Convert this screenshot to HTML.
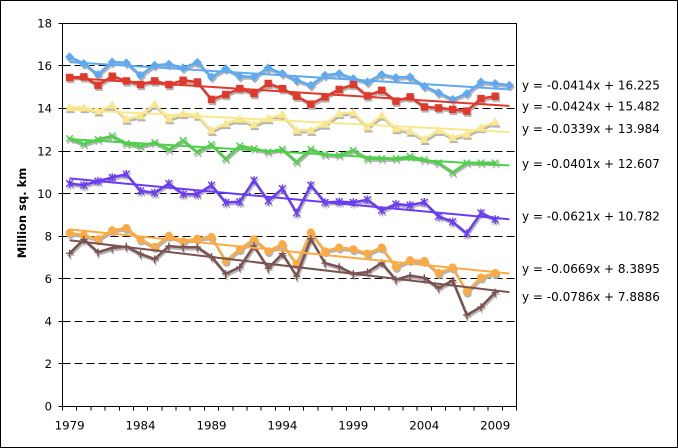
<!DOCTYPE html>
<html>
<head>
<meta charset="utf-8">
<style>
  html, body { margin:0; padding:0; background:#fff; }
  svg { display:block; }
  text { font-family: "DejaVu Sans", Verdana, "Liberation Sans", sans-serif; fill:#000; }
</style>
</head>
<body>
<svg width="678" height="448" viewBox="0 0 678 448" xmlns="http://www.w3.org/2000/svg">
  <defs>
    <!-- colored markers -->
    <marker id="mBlue" markerUnits="userSpaceOnUse" viewBox="-6 -6 12 12" markerWidth="12" markerHeight="12" refX="0" refY="0" overflow="visible"><path d="M0,-4.5L4.5,0L0,4.5L-4.5,0Z" fill="#5eaaf2"/></marker>
    <marker id="mRed" markerUnits="userSpaceOnUse" viewBox="-6 -6 12 12" markerWidth="12" markerHeight="12" refX="0" refY="0" overflow="visible"><rect x="-3.7" y="-3.7" width="7.4" height="7.4" fill="#e0382b"/></marker>
    <marker id="mYel" markerUnits="userSpaceOnUse" viewBox="-6 -6 12 12" markerWidth="12" markerHeight="12" refX="0" refY="0" overflow="visible"><path d="M0,-4.8L4.6,3.6L-4.6,3.6Z" fill="#f9e78c"/></marker>
    <marker id="mGrn" markerUnits="userSpaceOnUse" viewBox="-6 -6 12 12" markerWidth="12" markerHeight="12" refX="0" refY="0" overflow="visible"><path d="M-3.2,-3.2L3.2,3.2M-3.2,3.2L3.2,-3.2" stroke="#4fcf4a" stroke-width="1.4" fill="none"/></marker>
    <marker id="mPur" markerUnits="userSpaceOnUse" viewBox="-6 -6 12 12" markerWidth="12" markerHeight="12" refX="0" refY="0" overflow="visible"><path d="M-3.4,-3.4L3.4,3.4M-3.4,3.4L3.4,-3.4M0,-4.2V4.2" stroke="#6a3cf5" stroke-width="1.4" fill="none"/></marker>
    <marker id="mOra" markerUnits="userSpaceOnUse" viewBox="-6 -6 12 12" markerWidth="12" markerHeight="12" refX="0" refY="0" overflow="visible"><circle r="4" fill="#fcaa42"/></marker>
    <marker id="mBrn" markerUnits="userSpaceOnUse" viewBox="-6 -6 12 12" markerWidth="12" markerHeight="12" refX="0" refY="0" overflow="visible"><path d="M-3.6,0H3.6M0,-3.6V4.4" stroke="#7b5252" stroke-width="1.4" fill="none"/></marker>
    <!-- gray shadow markers -->
    <marker id="sBlue" markerUnits="userSpaceOnUse" viewBox="-6 -6 12 12" markerWidth="12" markerHeight="12" refX="0" refY="0" overflow="visible"><path d="M0,-4.5L4.5,0L0,4.5L-4.5,0Z" fill="#b4b4b4"/></marker>
    <marker id="sRed" markerUnits="userSpaceOnUse" viewBox="-6 -6 12 12" markerWidth="12" markerHeight="12" refX="0" refY="0" overflow="visible"><rect x="-3.7" y="-3.7" width="7.4" height="7.4" fill="#b4b4b4"/></marker>
    <marker id="sYel" markerUnits="userSpaceOnUse" viewBox="-6 -6 12 12" markerWidth="12" markerHeight="12" refX="0" refY="0" overflow="visible"><path d="M0,-4.8L4.6,3.6L-4.6,3.6Z" fill="#b4b4b4"/></marker>
    <marker id="sX" markerUnits="userSpaceOnUse" viewBox="-6 -6 12 12" markerWidth="12" markerHeight="12" refX="0" refY="0" overflow="visible"><path d="M-3.2,-3.2L3.2,3.2M-3.2,3.2L3.2,-3.2" stroke="#b4b4b4" stroke-width="1.4" fill="none"/></marker>
    <marker id="sAst" markerUnits="userSpaceOnUse" viewBox="-6 -6 12 12" markerWidth="12" markerHeight="12" refX="0" refY="0" overflow="visible"><path d="M-3.4,-3.4L3.4,3.4M-3.4,3.4L3.4,-3.4M0,-4.2V4.2" stroke="#b4b4b4" stroke-width="1.4" fill="none"/></marker>
    <marker id="sCi" markerUnits="userSpaceOnUse" viewBox="-6 -6 12 12" markerWidth="12" markerHeight="12" refX="0" refY="0" overflow="visible"><circle r="4" fill="#b4b4b4"/></marker>
    <marker id="sPl" markerUnits="userSpaceOnUse" viewBox="-6 -6 12 12" markerWidth="12" markerHeight="12" refX="0" refY="0" overflow="visible"><path d="M-3.6,0H3.6M0,-3.6V4.4" stroke="#b4b4b4" stroke-width="1.4" fill="none"/></marker>
  </defs>

  <!-- background & outer border -->
  <rect x="0" y="0" width="678" height="448" fill="#fff"/>
  <rect x="0.5" y="0.5" width="677" height="447" fill="none" stroke="#000" stroke-width="1"/>

  <!-- dashed gridlines -->
  <g stroke="#000" stroke-width="1" stroke-dasharray="8,4" shape-rendering="crispEdges">
    <line x1="62.5" y1="363.5" x2="516.5" y2="363.5"/>
    <line x1="62.5" y1="321.5" x2="516.5" y2="321.5"/>
    <line x1="62.5" y1="278.5" x2="516.5" y2="278.5"/>
    <line x1="62.5" y1="236.5" x2="516.5" y2="236.5"/>
    <line x1="62.5" y1="193.5" x2="516.5" y2="193.5"/>
    <line x1="62.5" y1="151.5" x2="516.5" y2="151.5"/>
    <line x1="62.5" y1="108.5" x2="516.5" y2="108.5"/>
    <line x1="62.5" y1="65.5" x2="516.5" y2="65.5"/>
  </g>

  <!-- plot frame, axes and ticks -->
  <g stroke="#000" stroke-width="1" fill="none" shape-rendering="crispEdges">
    <path d="M62.5,23.5H516.5V406.5H62.5Z"/>
    <path d="M58.5,406.5H62.5M58.5,363.5H62.5M58.5,321.5H62.5M58.5,278.5H62.5M58.5,236.5H62.5M58.5,193.5H62.5M58.5,151.5H62.5M58.5,108.5H62.5M58.5,65.5H62.5M58.5,23.5H62.5"/>
    <path d="M62.5,406.5v4M76.7,406.5v4M90.9,406.5v4M105.1,406.5v4M119.3,406.5v4M133.4,406.5v4M147.6,406.5v4M161.8,406.5v4M176,406.5v4M190.2,406.5v4M204.4,406.5v4M218.6,406.5v4M232.8,406.5v4M246.9,406.5v4M261.1,406.5v4M275.3,406.5v4M289.5,406.5v4M303.7,406.5v4M317.9,406.5v4M332.1,406.5v4M346.3,406.5v4M360.4,406.5v4M374.6,406.5v4M388.8,406.5v4M403,406.5v4M417.2,406.5v4M431.4,406.5v4M445.6,406.5v4M459.8,406.5v4M473.9,406.5v4M488.1,406.5v4M502.3,406.5v4M516.5,406.5v4"/>
  </g>

  <!-- Y tick labels -->
  <g font-size="11.6" text-anchor="end">
    <text x="52" y="27.6">18</text>
    <text x="52" y="69.8">16</text>
    <text x="52" y="112.6">14</text>
    <text x="52" y="155.5">12</text>
    <text x="52" y="197.8">10</text>
    <text x="52" y="240.5">8</text>
    <text x="52" y="282.8">6</text>
    <text x="52" y="325.5">4</text>
    <text x="52" y="367.8">2</text>
    <text x="52" y="410.6">0</text>
  </g>

  <!-- X tick labels -->
  <g font-size="11.8" text-anchor="middle">
    <text x="69.6" y="429.3">1979</text>
    <text x="140.5" y="429.3">1984</text>
    <text x="211.5" y="429.3">1989</text>
    <text x="282.4" y="429.3">1994</text>
    <text x="353.3" y="429.3">1999</text>
    <text x="424.3" y="429.3">2004</text>
    <text x="495.2" y="429.3">2009</text>
  </g>

  <!-- Y axis title -->
  <text x="0" y="0" font-size="11.5" font-weight="bold" text-anchor="middle" transform="translate(26,213) rotate(-90)">Million sq. km</text>

  <!-- ============ SERIES ============ -->
  <!-- Blue -->
  <g transform="translate(1,2)">
    <polyline fill="none" stroke="#b4b4b4" stroke-width="2.5" stroke-linejoin="round" marker-start="url(#sBlue)" marker-mid="url(#sBlue)" marker-end="url(#sBlue)"
      points="69.6,56.9 83.8,63.5 98.0,74.5 112.2,62.0 126.3,62.8 140.5,75.2 154.7,65.2 168.9,64.1 183.1,67.9 197.3,62.4 211.5,76.9 225.7,68.6 239.8,76.2 254.0,76.9 268.2,67.9 282.4,73.5 296.6,80.3 310.8,85.2 325.0,75.2 339.2,73.5 353.3,78.6 367.5,82.0 381.7,74.5 395.9,77.5 410.1,76.9 424.3,86.2 438.5,92.8 452.7,99.4 466.8,93.5 481.0,82.0 495.2,83.5 509.4,85.2"/>
  </g>
  <polyline fill="none" stroke="#5eaaf2" stroke-width="2.5" stroke-linejoin="round" marker-start="url(#mBlue)" marker-mid="url(#mBlue)" marker-end="url(#mBlue)"
    points="69.6,56.9 83.8,63.5 98.0,74.5 112.2,62.0 126.3,62.8 140.5,75.2 154.7,65.2 168.9,64.1 183.1,67.9 197.3,62.4 211.5,76.9 225.7,68.6 239.8,76.2 254.0,76.9 268.2,67.9 282.4,73.5 296.6,80.3 310.8,85.2 325.0,75.2 339.2,73.5 353.3,78.6 367.5,82.0 381.7,74.5 395.9,77.5 410.1,76.9 424.3,86.2 438.5,92.8 452.7,99.4 466.8,93.5 481.0,82.0 495.2,83.5 509.4,85.2"/>

  <!-- Red -->
  <g transform="translate(1,2)">
    <polyline fill="none" stroke="#b4b4b4" stroke-width="2.5" stroke-linejoin="round" marker-start="url(#sRed)" marker-mid="url(#sRed)" marker-end="url(#sRed)"
      points="69.6,77.5 83.8,76.9 98.0,85.2 112.2,76.2 126.3,80.9 140.5,84.5 154.7,80.9 168.9,84.5 183.1,80.3 197.3,82.0 211.5,99.4 225.7,94.5 239.8,88.6 254.0,93.5 268.2,83.5 282.4,88.6 296.6,96.2 310.8,104.1 325.0,96.9 339.2,89.4 353.3,84.5 367.5,95.8 381.7,90.3 395.9,101.1 410.1,96.9 424.3,106.9 438.5,107.9 452.7,109.4 466.8,111.1 481.0,98.6 495.2,96.2"/>
  </g>
  <polyline fill="none" stroke="#e0382b" stroke-width="2.5" stroke-linejoin="round" marker-start="url(#mRed)" marker-mid="url(#mRed)" marker-end="url(#mRed)"
    points="69.6,77.5 83.8,76.9 98.0,85.2 112.2,76.2 126.3,80.9 140.5,84.5 154.7,80.9 168.9,84.5 183.1,80.3 197.3,82.0 211.5,99.4 225.7,94.5 239.8,88.6 254.0,93.5 268.2,83.5 282.4,88.6 296.6,96.2 310.8,104.1 325.0,96.9 339.2,89.4 353.3,84.5 367.5,95.8 381.7,90.3 395.9,101.1 410.1,96.9 424.3,106.9 438.5,107.9 452.7,109.4 466.8,111.1 481.0,98.6 495.2,96.2"/>

  <!-- Yellow -->
  <g transform="translate(1,2)">
    <polyline fill="none" stroke="#b4b4b4" stroke-width="2.5" stroke-linejoin="round" marker-start="url(#sYel)" marker-mid="url(#sYel)" marker-end="url(#sYel)"
      points="69.6,107.5 83.8,107.5 98.0,110.9 112.2,105.2 126.3,119.2 140.5,115.8 154.7,104.1 168.9,118.6 183.1,113.5 197.3,115.2 211.5,130.3 225.7,123.5 239.8,119.2 254.0,124.5 268.2,118.6 282.4,114.5 296.6,130.3 310.8,130.3 325.0,124.1 339.2,113.5 353.3,112.6 367.5,126.9 381.7,115.2 395.9,128.6 410.1,131.1 424.3,139.4 438.5,130.3 452.7,137.5 466.8,134.1 481.0,127.5 495.2,122.0"/>
  </g>
  <polyline fill="none" stroke="#f9e78c" stroke-width="2.5" stroke-linejoin="round" marker-start="url(#mYel)" marker-mid="url(#mYel)" marker-end="url(#mYel)"
    points="69.6,107.5 83.8,107.5 98.0,110.9 112.2,105.2 126.3,119.2 140.5,115.8 154.7,104.1 168.9,118.6 183.1,113.5 197.3,115.2 211.5,130.3 225.7,123.5 239.8,119.2 254.0,124.5 268.2,118.6 282.4,114.5 296.6,130.3 310.8,130.3 325.0,124.1 339.2,113.5 353.3,112.6 367.5,126.9 381.7,115.2 395.9,128.6 410.1,131.1 424.3,139.4 438.5,130.3 452.7,137.5 466.8,134.1 481.0,127.5 495.2,122.0"/>

  <!-- Green -->
  <g transform="translate(1,2)">
    <polyline fill="none" stroke="#b4b4b4" stroke-width="2.5" stroke-linejoin="round" marker-start="url(#sX)" marker-mid="url(#sX)" marker-end="url(#sX)"
      points="69.6,138.6 83.8,144.1 98.0,139.4 112.2,135.8 126.3,143.5 140.5,146.2 154.7,142.4 168.9,149.6 183.1,140.3 197.3,151.8 211.5,144.5 225.7,158.6 239.8,145.8 254.0,148.6 268.2,151.8 282.4,149.2 296.6,161.8 310.8,149.2 325.0,154.5 339.2,155.2 353.3,150.3 367.5,158.6 381.7,158.6 395.9,158.6 410.1,156.3 424.3,159.7 438.5,162.8 452.7,172.4 466.8,162.8 481.0,162.8 495.2,162.8"/>
  </g>
  <polyline fill="none" stroke="#4fcf4a" stroke-width="2.5" stroke-linejoin="round" marker-start="url(#mGrn)" marker-mid="url(#mGrn)" marker-end="url(#mGrn)"
    points="69.6,138.6 83.8,144.1 98.0,139.4 112.2,135.8 126.3,143.5 140.5,146.2 154.7,142.4 168.9,149.6 183.1,140.3 197.3,151.8 211.5,144.5 225.7,158.6 239.8,145.8 254.0,148.6 268.2,151.8 282.4,149.2 296.6,161.8 310.8,149.2 325.0,154.5 339.2,155.2 353.3,150.3 367.5,158.6 381.7,158.6 395.9,158.6 410.1,156.3 424.3,159.7 438.5,162.8 452.7,172.4 466.8,162.8 481.0,162.8 495.2,162.8"/>

  <!-- Purple -->
  <g transform="translate(1,2)">
    <polyline fill="none" stroke="#b4b4b4" stroke-width="2.5" stroke-linejoin="round" marker-start="url(#sAst)" marker-mid="url(#sAst)" marker-end="url(#sAst)"
      points="69.6,183.5 83.8,185.2 98.0,181.1 112.2,177.5 126.3,174.1 140.5,190.9 154.7,192.8 168.9,183.5 183.1,194.1 197.3,194.1 211.5,185.2 225.7,202.4 239.8,201.8 254.0,180.3 268.2,200.9 282.4,188.6 296.6,212.9 310.8,185.2 325.0,202.4 339.2,201.8 353.3,202.4 367.5,199.7 381.7,210.3 395.9,204.1 410.1,205.2 424.3,202.2 438.5,216.3 452.7,221.8 466.8,233.5 481.0,212.9 495.2,219.5"/>
  </g>
  <polyline fill="none" stroke="#6a3cf5" stroke-width="2.5" stroke-linejoin="round" marker-start="url(#mPur)" marker-mid="url(#mPur)" marker-end="url(#mPur)"
    points="69.6,183.5 83.8,185.2 98.0,181.1 112.2,177.5 126.3,174.1 140.5,190.9 154.7,192.8 168.9,183.5 183.1,194.1 197.3,194.1 211.5,185.2 225.7,202.4 239.8,201.8 254.0,180.3 268.2,200.9 282.4,188.6 296.6,212.9 310.8,185.2 325.0,202.4 339.2,201.8 353.3,202.4 367.5,199.7 381.7,210.3 395.9,204.1 410.1,205.2 424.3,202.2 438.5,216.3 452.7,221.8 466.8,233.5 481.0,212.9 495.2,219.5"/>

  <!-- Orange -->
  <g transform="translate(1,2)">
    <polyline fill="none" stroke="#b4b4b4" stroke-width="2.5" stroke-linejoin="round" marker-start="url(#sCi)" marker-mid="url(#sCi)" marker-end="url(#sCi)"
      points="69.6,232.9 83.8,235.2 98.0,239.2 112.2,230.3 126.3,228.0 140.5,239.5 154.7,246.9 168.9,235.8 183.1,241.2 197.3,238.6 211.5,236.9 225.7,260.9 239.8,249.2 254.0,239.2 268.2,251.2 282.4,244.1 296.6,263.9 310.8,232.4 325.0,251.2 339.2,247.5 353.3,249.2 367.5,253.5 381.7,247.5 395.9,266.9 410.1,260.1 424.3,260.9 438.5,272.9 452.7,267.5 466.8,291.8 481.0,277.5 495.2,272.9"/>
  </g>
  <polyline fill="none" stroke="#fcaa42" stroke-width="2.5" stroke-linejoin="round" marker-start="url(#mOra)" marker-mid="url(#mOra)" marker-end="url(#mOra)"
    points="69.6,232.9 83.8,235.2 98.0,239.2 112.2,230.3 126.3,228.0 140.5,239.5 154.7,246.9 168.9,235.8 183.1,241.2 197.3,238.6 211.5,236.9 225.7,260.9 239.8,249.2 254.0,239.2 268.2,251.2 282.4,244.1 296.6,263.9 310.8,232.4 325.0,251.2 339.2,247.5 353.3,249.2 367.5,253.5 381.7,247.5 395.9,266.9 410.1,260.1 424.3,260.9 438.5,272.9 452.7,267.5 466.8,291.8 481.0,277.5 495.2,272.9"/>

  <!-- Brown -->
  <g transform="translate(1,2)">
    <polyline fill="none" stroke="#b4b4b4" stroke-width="2.5" stroke-linejoin="round" marker-start="url(#sPl)" marker-mid="url(#sPl)" marker-end="url(#sPl)"
      points="69.6,253.3 83.8,239.5 98.0,252.2 112.2,248.0 126.3,246.5 140.5,253.9 154.7,259.0 168.9,246.1 183.1,247.3 197.3,247.1 211.5,256.7 225.7,273.7 239.8,267.1 254.0,245.8 268.2,268.2 282.4,253.7 296.6,276.1 310.8,238.8 325.0,263.1 339.2,266.9 353.3,273.7 367.5,272.0 381.7,262.9 395.9,279.7 410.1,275.6 424.3,277.8 438.5,288.0 452.7,280.5 466.8,315.0 481.0,306.9 495.2,292.4"/>
  </g>
  <polyline fill="none" stroke="#7b5252" stroke-width="2.5" stroke-linejoin="round" marker-start="url(#mBrn)" marker-mid="url(#mBrn)" marker-end="url(#mBrn)"
    points="69.6,253.3 83.8,239.5 98.0,252.2 112.2,248.0 126.3,246.5 140.5,253.9 154.7,259.0 168.9,246.1 183.1,247.3 197.3,247.1 211.5,256.7 225.7,273.7 239.8,267.1 254.0,245.8 268.2,268.2 282.4,253.7 296.6,276.1 310.8,238.8 325.0,263.1 339.2,266.9 353.3,273.7 367.5,272.0 381.7,262.9 395.9,279.7 410.1,275.6 424.3,277.8 438.5,288.0 452.7,280.5 466.8,315.0 481.0,306.9 495.2,292.4"/>

  <!-- ============ TREND LINES ============ -->
  <g stroke-width="2" stroke-linecap="butt">
    <line x1="69.6" y1="62.1" x2="509.4" y2="89.4" stroke="#5eaaf2"/>
    <line x1="69.6" y1="77.9" x2="509.4" y2="105.9" stroke="#e0382b"/>
    <line x1="69.6" y1="109.6" x2="509.4" y2="132.0" stroke="#f9e78c"/>
    <line x1="69.6" y1="139.1" x2="509.4" y2="165.5" stroke="#4fcf4a"/>
    <line x1="69.6" y1="178.4" x2="509.4" y2="219.3" stroke="#6a3cf5"/>
    <line x1="69.6" y1="229.4" x2="509.4" y2="273.5" stroke="#fcaa42"/>
    <line x1="69.6" y1="240.3" x2="509.4" y2="292.2" stroke="#7b5252"/>
  </g>

  <!-- Trend equations -->
  <g font-size="12">
    <text x="522" y="89.5">y = -0.0414x + 16.225</text>
    <text x="522" y="110.5">y = -0.0424x + 15.482</text>
    <text x="522" y="133">y = -0.0339x + 13.984</text>
    <text x="522" y="168">y = -0.0401x + 12.607</text>
    <text x="522" y="220.5">y = -0.0621x + 10.782</text>
    <text x="522" y="273">y = -0.0669x + 8.3895</text>
    <text x="522" y="301">y = -0.0786x + 7.8886</text>
  </g>
</svg>
</body>
</html>
